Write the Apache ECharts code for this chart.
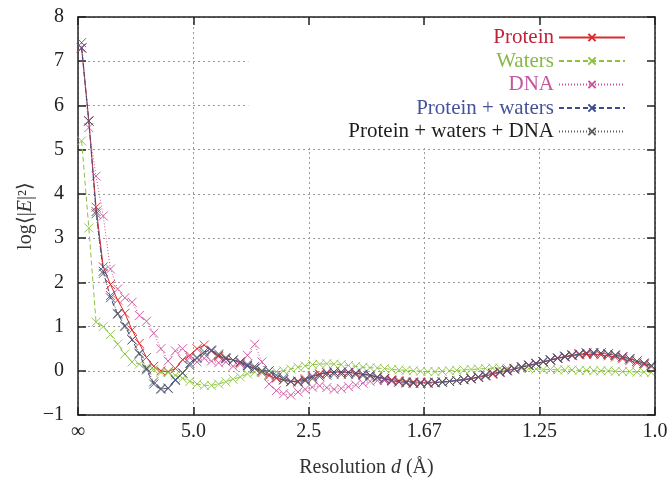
<!DOCTYPE html>
<html>
<head>
<meta charset="utf-8">
<script src="https://cdn.jsdelivr.net/npm/echarts@6/dist/echarts.min.js"></script>
<style>html,body{margin:0;padding:0;background:#fff;}#c{width:669px;height:478px;}</style>
</head>
<body>
<div id="c"></div>
<script>
// Bin centres in 1/d (reciprocal resolution), 80 bins from 0 to 1
const nBins = 80;
const binCenters = Array.from({length: nBins}, (_, k) => +(0.00625 + 0.0125 * k).toFixed(5));

const xTickValues = [0, 0.2, 0.4, 0.6, 0.8, 1.0];
const xTickLabels = ['∞', '5.0', '2.5', '1.67', '1.25', '1.0'];

const seriesNames = ['Protein', 'Waters', 'DNA', 'Protein + waters', 'Protein + waters + DNA'];

const protein = [7.3,5.65,3.7,2.35,1.95,1.6,1.3,0.92,0.62,0.3,
  0.1,0.0,-0.02,0.05,0.25,0.35,0.5,0.58,0.45,0.32,
  0.28,0.24,0.18,0.1,0.05,-0.04,-0.11,-0.17,-0.21,-0.24,
  -0.23,-0.18,-0.12,-0.07,-0.04,-0.03,-0.03,-0.04,-0.06,-0.08,
  -0.1,-0.14,-0.17,-0.2,-0.22,-0.24,-0.25,-0.26,-0.26,-0.26,
  -0.25,-0.24,-0.22,-0.2,-0.18,-0.15,-0.12,-0.08,-0.04,0.0,
  0.04,0.08,0.12,0.16,0.2,0.24,0.28,0.31,0.34,0.36,
  0.37,0.37,0.36,0.34,0.31,0.27,0.23,0.18,0.14,0.09];

const waters = [5.2,3.23,1.1,1.0,0.82,0.6,0.38,0.2,0.15,0.08,
  0.03,-0.04,-0.04,-0.1,-0.17,-0.24,-0.3,-0.33,-0.33,-0.3,
  -0.25,-0.19,-0.14,-0.07,-0.03,-0.02,0.0,-0.02,0.0,0.04,
  0.08,0.11,0.14,0.15,0.16,0.15,0.14,0.12,0.1,0.08,
  0.07,0.06,0.05,0.03,0.02,0.01,0.0,-0.01,-0.02,-0.02,
  -0.01,0.0,0.01,0.02,0.03,0.04,0.05,0.06,0.06,0.06,
  0.06,0.05,0.05,0.04,0.03,0.03,0.02,0.02,0.02,0.01,
  0.01,0.0,0.0,0.0,-0.01,-0.02,-0.02,-0.03,-0.03,-0.04];

const dna = [7.3,5.5,4.4,3.5,2.3,1.85,1.65,1.55,1.25,1.12,
  0.85,0.5,0.22,0.45,0.5,0.3,0.2,0.28,0.22,0.18,
  0.2,0.1,0.15,0.35,0.6,0.2,-0.3,-0.45,-0.52,-0.55,
  -0.48,-0.42,-0.37,-0.34,-0.38,-0.42,-0.4,-0.36,-0.32,-0.28,
  -0.24,-0.22,-0.22,-0.24,-0.26,-0.28,-0.28,-0.28,-0.27,-0.26,
  -0.25,-0.24,-0.22,-0.2,-0.17,-0.14,-0.1,-0.06,-0.02,0.02,
  0.05,0.09,0.13,0.17,0.21,0.25,0.29,0.33,0.36,0.38,
  0.4,0.41,0.4,0.38,0.36,0.32,0.27,0.22,0.17,0.12];

const proteinWaters = [7.3,5.65,3.6,2.25,1.65,1.28,1.02,0.7,0.38,0.02,
  -0.3,-0.42,-0.39,-0.2,-0.05,0.17,0.3,0.43,0.47,0.35,
  0.27,0.24,0.2,0.12,0.06,0.0,0.0,-0.1,-0.16,-0.24,
  -0.25,-0.21,-0.14,-0.09,-0.05,-0.03,-0.03,-0.03,-0.05,-0.08,
  -0.1,-0.14,-0.18,-0.22,-0.25,-0.26,-0.27,-0.28,-0.28,-0.27,
  -0.26,-0.24,-0.22,-0.2,-0.18,-0.14,-0.1,-0.06,-0.03,0.0,
  0.04,0.08,0.12,0.16,0.2,0.24,0.28,0.32,0.35,0.38,
  0.4,0.4,0.4,0.38,0.35,0.31,0.27,0.22,0.17,0.12];

const proteinWatersDna = [7.42,5.65,3.55,2.2,1.7,1.3,1.0,0.7,0.4,0.05,
  -0.25,-0.4,-0.4,-0.22,-0.05,0.12,0.28,0.38,0.45,0.38,
  0.3,0.24,0.2,0.15,0.1,0.0,-0.08,-0.15,-0.2,-0.25,
  -0.26,-0.23,-0.18,-0.13,-0.1,-0.08,-0.08,-0.08,-0.09,-0.11,
  -0.13,-0.16,-0.19,-0.22,-0.25,-0.27,-0.28,-0.28,-0.28,-0.27,
  -0.26,-0.24,-0.22,-0.2,-0.17,-0.14,-0.1,-0.06,-0.02,0.01,
  0.05,0.09,0.13,0.17,0.21,0.25,0.29,0.33,0.36,0.38,
  0.4,0.41,0.4,0.38,0.35,0.31,0.27,0.22,0.17,0.12];

const seriesValues = [protein, waters, dna, proteinWaters, proteinWatersDna];
const lineColors = ['#dc2a30', '#8cc43e', '#cc509e', '#3c4a8e', '#5a5a5a'];
const textColors = ['#c0223a', '#86b846', '#c4569e', '#46539a', '#1e1e1e'];
const dashTypes = ['solid', [5, 3], [1, 2], [5, 3], [1, 2]];

const FONT = 'Liberation Serif';
const crossPath = 'path://M0,0L10,10M10,0L0,10';

const series = seriesNames.map((name, i) => ({
  name: name,
  type: 'line',
  data: binCenters.map((x, k) => [x, seriesValues[i][k]]),
  symbol: crossPath,
  symbolSize: 9,
  showSymbol: true,
  animation: false,
  lineStyle: { color: lineColors[i], width: 1, type: dashTypes[i] },
  itemStyle: { color: lineColors[i], borderColor: lineColors[i], borderWidth: 0.9 },
  z: 2 + i
}));

const frameAxisLine = { show: true, onZero: false, lineStyle: { color: '#222', width: 1.5 } };
const frameTick = { show: true, inside: true, length: 8, lineStyle: { color: '#222', width: 1.5 } };
const gridLine = { show: true, lineStyle: { color: '#9a9a9a', type: [2, 3], width: 1 } };

const chart = echarts.init(document.getElementById('c'), null, { renderer: 'canvas' });
chart.setOption({
  backgroundColor: '#ffffff',
  animation: false,
  textStyle: { fontFamily: FONT },
  grid: { left: 78, right: 14, top: 17, bottom: 63, containLabel: false, outerBoundsMode: 'none' },
  legend: {
    orient: 'vertical',
    align: 'right',
    right: 15,
    top: 19,
    padding: [8, 28, 6, 100],
    backgroundColor: '#ffffff',
    itemGap: 2.5,
    itemWidth: 66,
    itemHeight: 9,
    selectedMode: false,
    data: seriesNames.map((n, i) => ({ name: n, textStyle: { color: textColors[i] } })),
    textStyle: { fontFamily: FONT, fontSize: 21, padding: [0, 0, 0, 0] },
    z: 20
  },
  xAxis: [{
    type: 'value', min: 0, max: 1, interval: 0.2,
    position: 'bottom',
    name: 'Resolution {i|d} (Å)',
    nameLocation: 'middle', nameGap: 43, nameMoveOverlap: false,
    nameTextStyle: { fontFamily: FONT, fontSize: 20, color: '#333',
      rich: { i: { fontFamily: FONT, fontStyle: 'italic', fontSize: 20, color: '#333' } } },
    axisLine: frameAxisLine,
    axisTick: frameTick,
    axisLabel: { margin: 7, fontFamily: FONT, fontSize: 20, color: '#222',
      formatter: v => { const idx = xTickValues.findIndex(t => Math.abs(t - v) < 1e-6); return idx >= 0 ? xTickLabels[idx] : ''; } },
    splitLine: gridLine
  }, {
    type: 'value', min: 0, max: 1, interval: 0.2,
    position: 'top',
    z: 30,
    axisLine: frameAxisLine,
    axisTick: frameTick,
    axisLabel: { show: false },
    splitLine: { show: false }
  }],
  yAxis: [{
    type: 'value', min: -1, max: 8, interval: 1,
    position: 'left',
    name: 'log⟨|{i|E}|²⟩',
    nameLocation: 'middle', nameGap: 42, nameRotate: 90, nameMoveOverlap: false,
    nameTextStyle: { fontFamily: FONT, fontSize: 20, color: '#333',
      rich: { i: { fontFamily: FONT, fontStyle: 'italic', fontSize: 20, color: '#333' } } },
    axisLine: frameAxisLine,
    axisTick: frameTick,
    axisLabel: { margin: 14, fontFamily: FONT, fontSize: 20, color: '#222',
      formatter: v => (v < 0 ? '\u2212' + Math.abs(v) : String(v)) },
    splitLine: gridLine
  }, {
    type: 'value', min: -1, max: 8, interval: 1,
    position: 'right',
    z: 30,
    axisLine: frameAxisLine,
    axisTick: frameTick,
    axisLabel: { show: false },
    splitLine: { show: false }
  }],
  series: series
});
</script>
</body>
</html>
